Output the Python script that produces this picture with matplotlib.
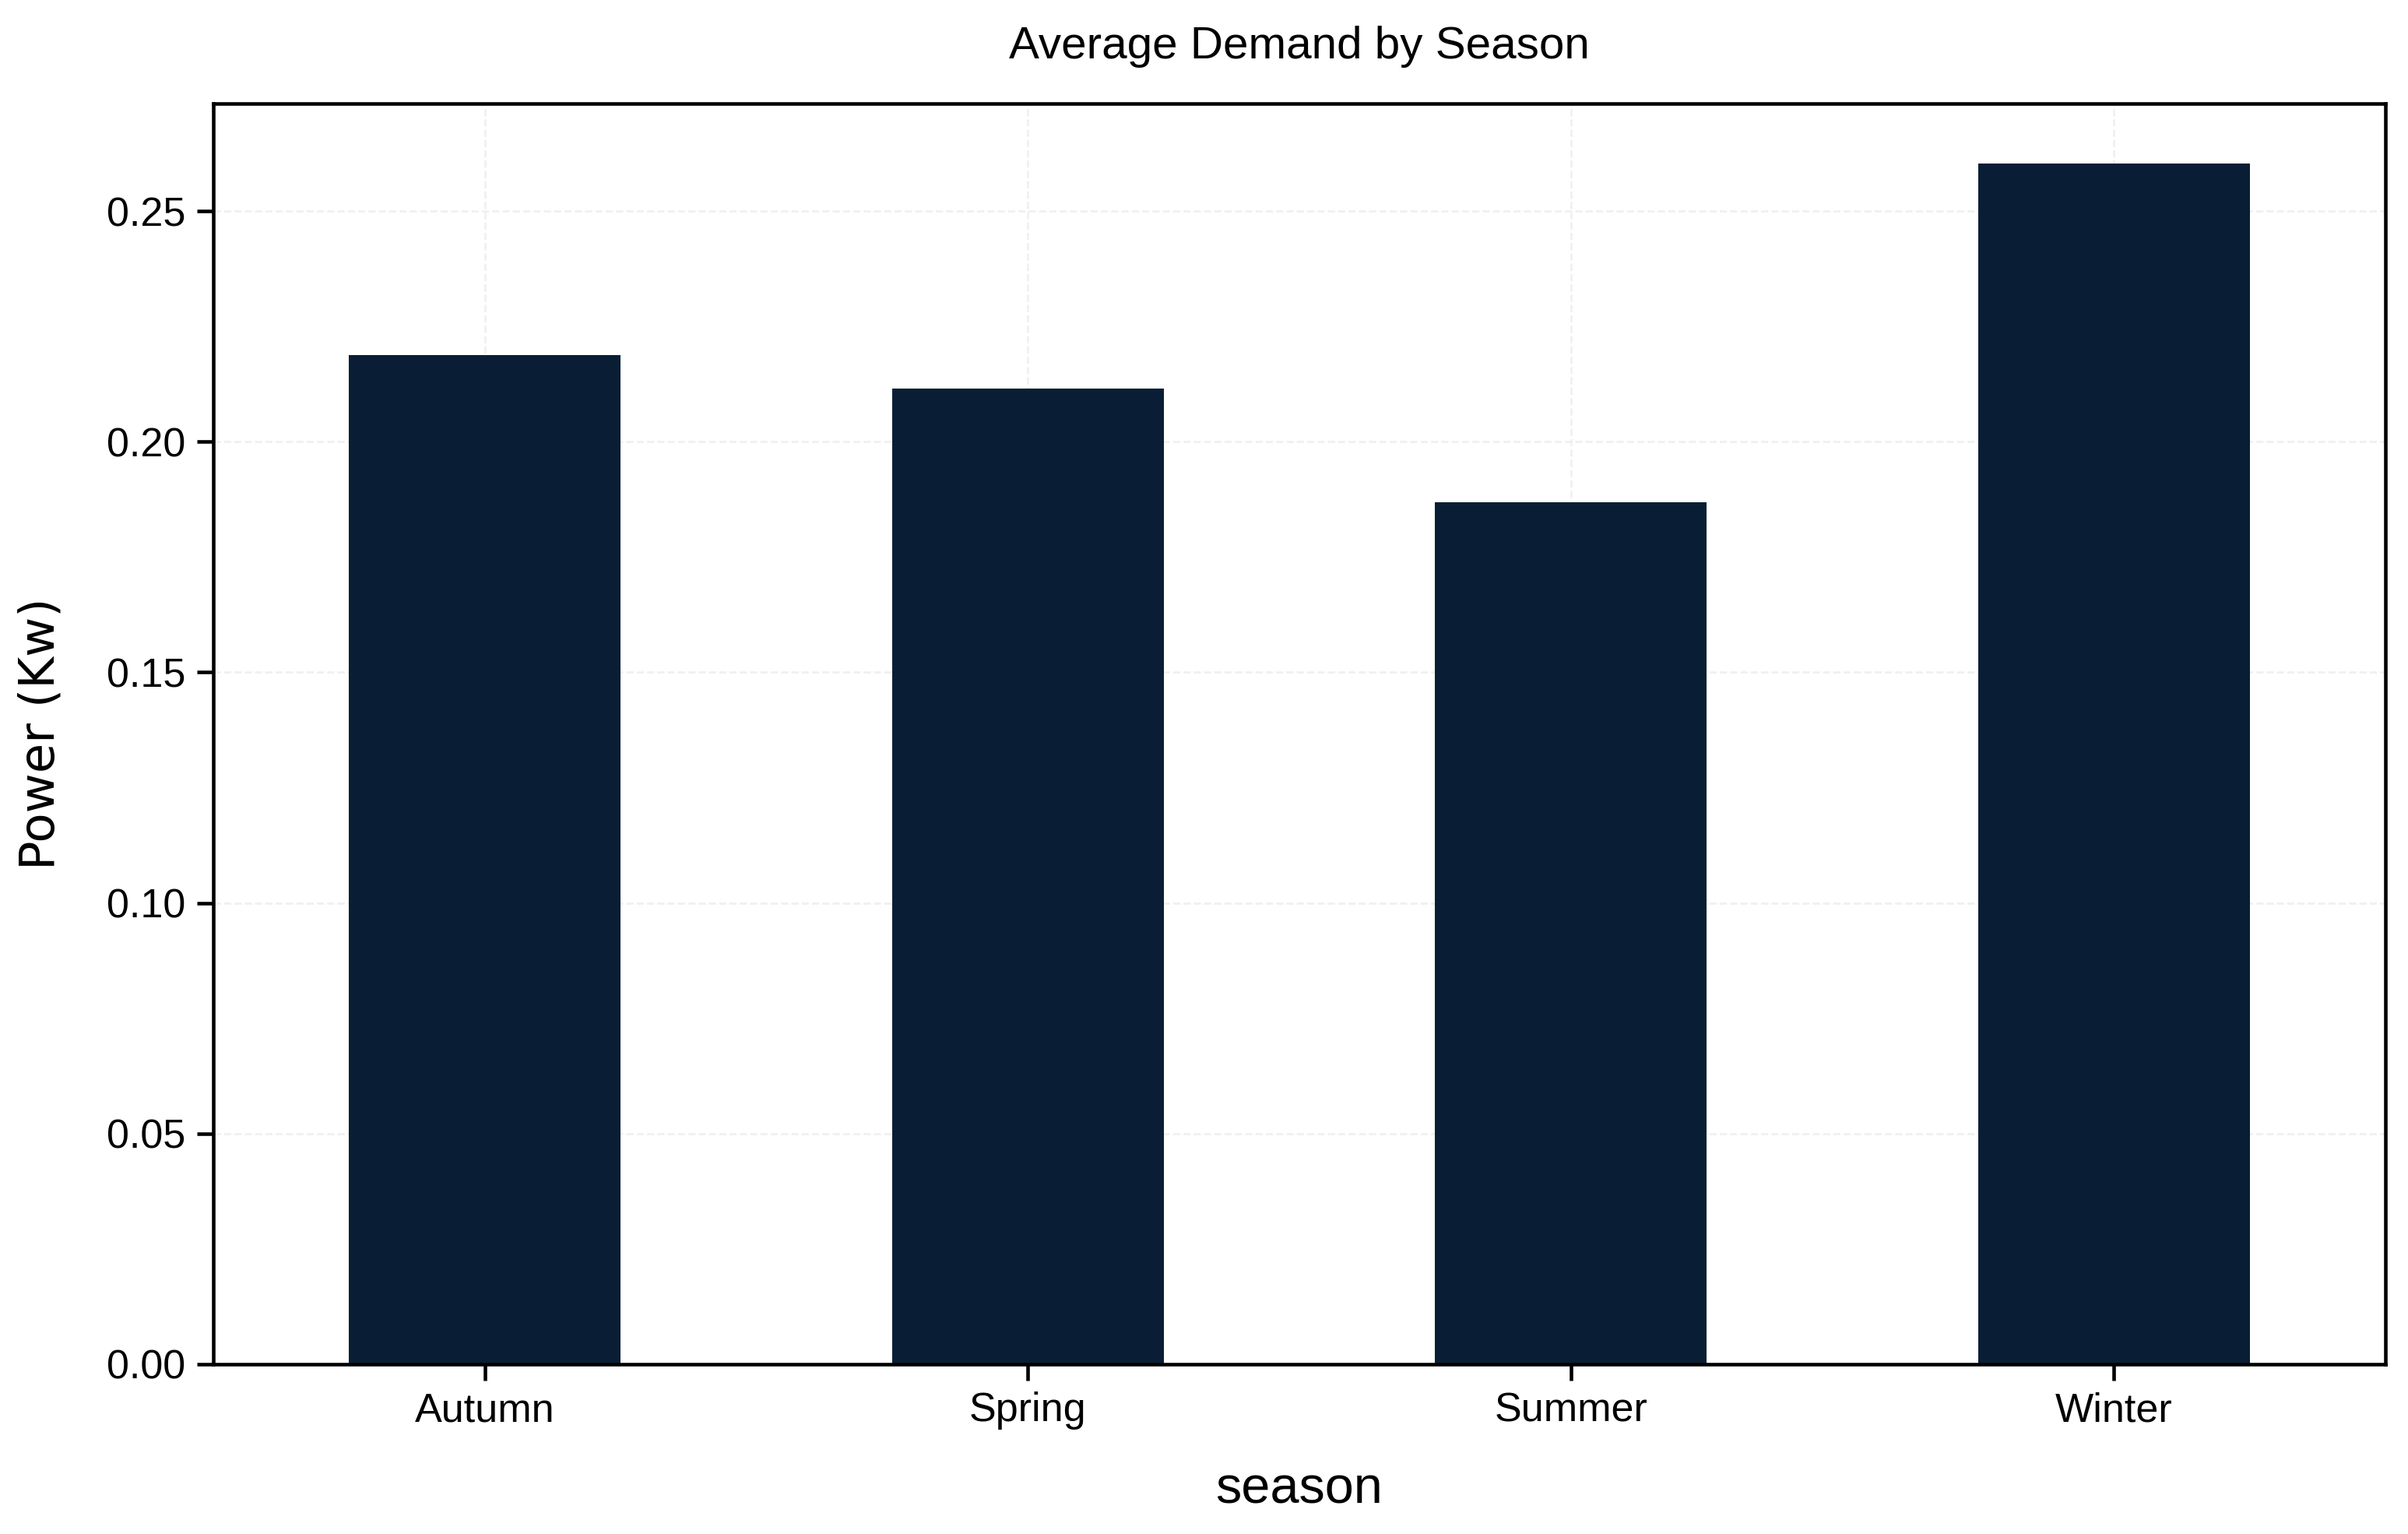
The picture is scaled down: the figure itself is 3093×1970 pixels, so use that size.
import numpy as np
import matplotlib.pyplot as plt

seasons = ['Autumn', 'Spring', 'Summer', 'Winter']
power_kw = [0.2188, 0.2116, 0.1869, 0.2603]

plt.rcParams['font.family'] = ['Liberation Sans', 'DejaVu Sans']

fig = plt.figure(figsize=(3093 / 300, 1970 / 300), dpi=300)
ax = fig.add_axes([0.0886, 0.1107, 0.9020, 0.8218])

x = np.arange(len(seasons))
ax.bar(x, power_kw, width=0.5, color='#091e34', zorder=2)
ax.set_xlim(-0.5, len(seasons) - 0.5)
ax.set_xticks(x)
ax.set_xticklabels(seasons)

ax.grid(True, linestyle='--', color='#efefef', linewidth=0.6, zorder=0)
ax.tick_params(axis='both', labelsize=12.5, length=5, width=1.1, color='black')
for s in ax.spines.values():
    s.set_linewidth(1.1)

ax.set_title('Average Demand by Season', fontsize=14, pad=14)
ax.set_xlabel('season', fontsize=16, labelpad=11)
ax.set_ylabel('Power (Kw)', fontsize=15, family='DejaVu Sans', labelpad=13)

plt.savefig('out.png', dpi=300)
